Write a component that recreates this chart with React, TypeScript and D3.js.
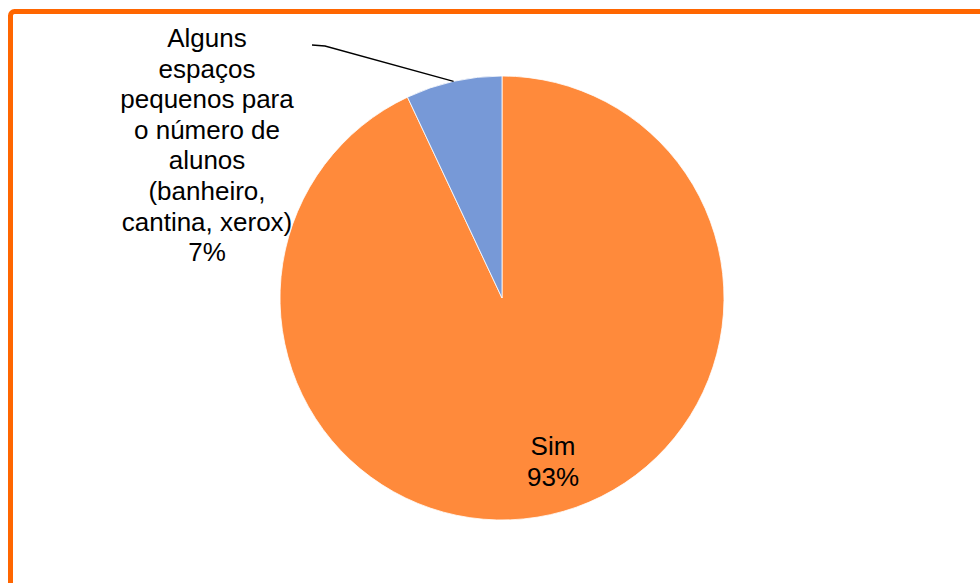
import React, { useEffect, useRef } from 'react';
import * as d3 from 'd3';

// chart data
const categories = ['Sim', 'Alguns espaços pequenos para o número de alunos (banheiro, cantina, xerox)'];
const values = [93, 7];
const colors = ['#FF8A3B', '#7799D7'];

// label line breaks, as in the original chart
const labelLines = [
  ['Sim', '93%'],
  ['Alguns', 'espaços', 'pequenos para', 'o número de', 'alunos', '(banheiro,', 'cantina, xerox)', '7%'],
];

const W = 980;
const H = 583;

const App: React.FC = () => {
  const svgRef = useRef<SVGSVGElement>(null);

  useEffect(() => {
    if (!svgRef.current) return;
    const svg = d3.select(svgRef.current);
    svg.selectAll('*').remove();

    svg.append('rect').attr('width', W).attr('height', H).attr('fill', '#fff');

    // orange frame, runs off the right and bottom edges
    svg.append('rect')
      .attr('x', 10.5)
      .attr('y', 11.5)
      .attr('width', W + 40)
      .attr('height', H + 40)
      .attr('rx', 4)
      .attr('fill', 'none')
      .attr('stroke', '#FF6600')
      .attr('stroke-width', 5);

    const cx = 502;
    const cy = 298;
    const r = 222;

    const pie = d3.pie<number>().sort(null).value(d => d);
    const arcs = pie(values);
    const arc = d3.arc<d3.PieArcDatum<number>>().innerRadius(0).outerRadius(r);

    const g = svg.append('g').attr('transform', `translate(${cx},${cy})`);

    g.selectAll('path')
      .data(arcs)
      .enter().append('path')
      .attr('d', arc)
      .attr('fill', (_, i) => colors[i])
      .attr('stroke', '#fff')
      .attr('stroke-width', 0.8);

    const font = '"Liberation Sans", Arial, sans-serif';

    // Sim label inside the slice
    const simText = svg.append('text')
      .attr('text-anchor', 'middle')
      .style('font-family', font)
      .style('font-size', '26px')
      .attr('fill', '#000');
    labelLines[0].forEach((line, i) => {
      simText.append('tspan').attr('x', 553).attr('y', 455 + i * 30.6).text(line);
    });

    // outside label with leader line
    const small = arcs[1];
    const mid = (small.startAngle + small.endAngle) / 2;
    const anchor = [cx + Math.sin(mid) * r, cy - Math.cos(mid) * r];
    svg.append('polyline')
      .attr('points', `312,45 325,46 ${anchor[0]},${anchor[1]}`)
      .attr('fill', 'none')
      .attr('stroke', '#000')
      .attr('stroke-width', 1.3);

    const otherText = svg.append('text')
      .attr('text-anchor', 'middle')
      .style('font-family', font)
      .style('font-size', '26px')
      .attr('fill', '#000');
    labelLines[1].forEach((line, i) => {
      otherText.append('tspan').attr('x', 207).attr('y', 47 + i * 30.6).text(line);
    });
  }, []);

  return (
    <svg
      ref={svgRef}
      width={W}
      height={H}
      style={{ position: 'fixed', left: 0, top: 0, display: 'block' }}
    />
  );
};

export default App;
